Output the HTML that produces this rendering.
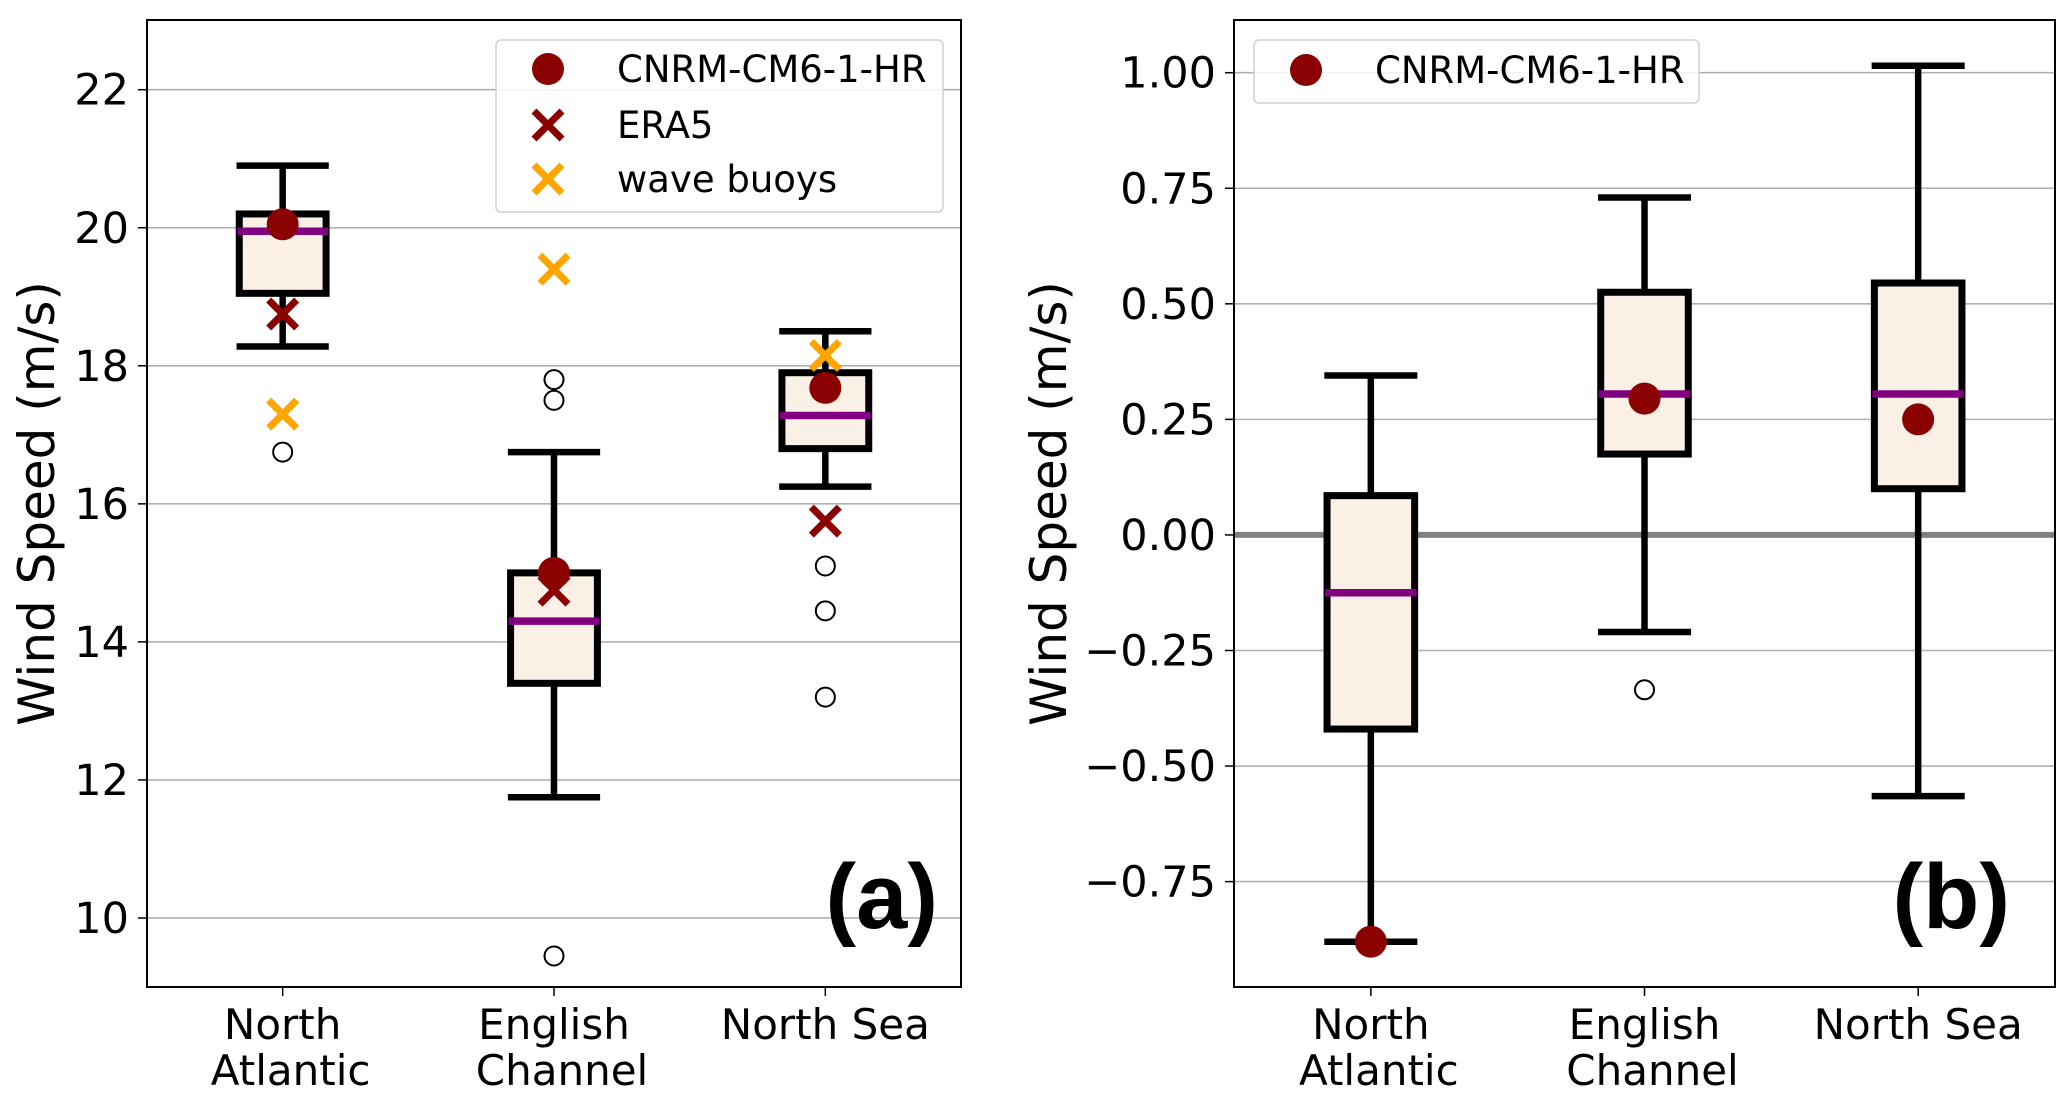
<!DOCTYPE html>
<html><head><meta charset="utf-8"><style>
html,body{margin:0;padding:0;background:#fff;}
svg{display:block;font-family:"DejaVu Sans","Liberation Sans",sans-serif;}
</style></head><body>
<svg id="chart" width="2067" height="1107" viewBox="0 0 2067 1107" xmlns="http://www.w3.org/2000/svg"></svg>
<script>
const categories = ["North Atlantic","English Channel","North Sea"];
const catLines = [["North","Atlantic"],["English","Channel"],["North Sea"]];
// Panel a
const aTicks = [10,12,14,16,18,20,22];
const aWhiskLo = [18.28,11.75,16.25];
const aQ1 = [19.05,13.4,16.8];
const aMed = [19.95,14.3,17.28];
const aQ3 = [20.2,15.0,17.9];
const aWhiskHi = [20.9,16.75,18.5];
const aCNRM = [20.05,15.0,17.68];
const aERA5 = [18.75,14.75,15.75];
const aBuoys = [17.3,19.4,18.15];
const aOutliers = [[16.75],[17.8,17.5,9.45],[15.1,14.45,13.2]];
// Panel b
const bTicks = [-0.75,-0.5,-0.25,0,0.25,0.5,0.75,1.0];
const bTickLabels = ["\u22120.75","\u22120.50","\u22120.25","0.00","0.25","0.50","0.75","1.00"];
const bWhiskLo = [-0.88,-0.21,-0.565];
const bQ1 = [-0.42,0.175,0.1];
const bMed = [-0.125,0.305,0.305];
const bQ3 = [0.085,0.525,0.545];
const bWhiskHi = [0.345,0.73,1.015];
const bCNRM = [-0.88,0.295,0.25];
const bOutliers = [[],[-0.335],[]];

const NS="http://www.w3.org/2000/svg";
const svg=document.getElementById('chart');
function el(tag,attrs,parent,text){const e=document.createElementNS(NS,tag);for(const k in attrs)e.setAttribute(k,attrs[k]);if(text!==undefined)e.textContent=text;(parent||svg).appendChild(e);return e;}

function panel(o){
  const {L,R,T,B,ymin,ymax}=o;
  const g=el('g',{});
  
  
  const y=v=>B-(v-ymin)/(ymax-ymin)*(B-T);
  const x=i=>L+(i+1-0.5)/3*(R-L);
  const unit=(R-L)/3;
  o.ticks.forEach((t,k)=>{
    const gl=el('line',{x1:L,x2:R,y1:y(t),y2:y(t),stroke:'#b0b0b0','stroke-width':1.6},g);
    
    
    el('line',{x1:L-9,x2:L,y1:y(t),y2:y(t),stroke:'#000','stroke-width':1.5},g);
    const tx=el('text',{x:L-18,y:y(t)+15,'text-anchor':'end','font-size':43,fill:'#000'},g,o.tickLabels?o.tickLabels[k]:String(t));
    
    
  });
  if(o.zero){const z=el('line',{x1:L,x2:R,y1:y(0),y2:y(0),stroke:'#808080','stroke-width':6},g);
    }
  const bw=unit*0.32, cw=unit*0.17;
  for(let i=0;i<3;i++){
    const cx=x(i);
    const bg=el('g',{},g);
    
    
    el('line',{x1:cx,x2:cx,y1:y(o.wlo[i]),y2:y(o.q1[i]),stroke:'#000','stroke-width':6.5},bg);
    el('line',{x1:cx,x2:cx,y1:y(o.q3[i]),y2:y(o.whi[i]),stroke:'#000','stroke-width':6.5},bg);
    el('line',{x1:cx-cw,x2:cx+cw,y1:y(o.wlo[i]),y2:y(o.wlo[i]),stroke:'#000','stroke-width':6.5},bg);
    el('line',{x1:cx-cw,x2:cx+cw,y1:y(o.whi[i]),y2:y(o.whi[i]),stroke:'#000','stroke-width':6.5},bg);
    el('rect',{x:cx-bw/2,y:y(o.q3[i]),width:bw,height:y(o.q1[i])-y(o.q3[i]),fill:'#faf0e6',stroke:'#000','stroke-width':7},bg);
    el('line',{x1:cx-bw/2-2,x2:cx+bw/2+2,y1:y(o.med[i]),y2:y(o.med[i]),stroke:'#800080','stroke-width':7.5},bg);
    o.out[i].forEach(v=>{const c=el('circle',{cx:cx,cy:y(v),r:9.5,fill:'none',stroke:'#000','stroke-width':2},bg);
      });
    if(o.buoy){cross(cx,y(o.buoy[i]),'#ffa500',bg);}
    if(o.era){cross(cx,y(o.era[i]),'#8b0000',bg);}
    const d=el('circle',{cx:cx,cy:y(o.cnrm[i]),r:16,fill:'#8b0000'},bg);
    
    el('line',{x1:cx,x2:cx,y1:B,y2:B+9,stroke:'#000','stroke-width':1.5},g);
    catLines[i].forEach((s,j)=>{const t=el('text',{x:cx+(j==1?8:0),y:1039+j*46,'text-anchor':'middle','font-size':42},g,s);
      });
  }
  const fr=el('rect',{x:L,y:T,width:R-L,height:B-T,fill:'none',stroke:'#000','stroke-width':2},g);
  
  const yl=el('text',{x:0,y:0,transform:`translate(${o.ylx},${(T+B)/2}) rotate(-90)`,'text-anchor':'middle','font-size':50},g,'Wind Speed (m/s)');
  
  const pl=el('text',{x:o.labX,y:928,'text-anchor':'end','font-size':92,'font-weight':'bold','font-family':'Liberation Sans, sans-serif'},g,o.label);
  
  return g;
}
function cross(cx,cy,col,p){
  const g=el('g',{},p);
  
  
  const s=14;
  el('line',{x1:cx-s,y1:cy-s,x2:cx+s,y2:cy+s,stroke:col,'stroke-width':7},g);
  el('line',{x1:cx-s,y1:cy+s,x2:cx+s,y2:cy-s,stroke:col,'stroke-width':7},g);
  return g;
}
panel({name:'panel-a',L:147,R:961,T:20,B:987,ymin:9,ymax:23.01,ticks:aTicks,wlo:aWhiskLo,q1:aQ1,med:aMed,q3:aQ3,whi:aWhiskHi,cnrm:aCNRM,era:aERA5,buoy:aBuoys,out:aOutliers,ylx:54,label:'(a)',labX:938});
panel({name:'panel-b',L:1234,R:2055,T:20,B:987,ymin:-0.978,ymax:1.114,ticks:bTicks,tickLabels:bTickLabels,wlo:bWhiskLo,q1:bQ1,med:bMed,q3:bQ3,whi:bWhiskHi,cnrm:bCNRM,out:bOutliers,zero:true,ylx:1066,label:'(b)',labX:2010});

function legend(x,y,w,h,items,name){
  const g=el('g',{});
  
  
  el('rect',{x:x,y:y,width:w,height:h,rx:5,fill:'#fff','fill-opacity':0.85,stroke:'#d0d0d0','stroke-width':1.5},g);
  items.forEach(it=>{
    if(it.type==='dot')el('circle',{cx:it.mx,cy:it.y,r:16,fill:'#8b0000'},g);
    else cross(it.mx,it.y,it.col,g);
    const t=el('text',{x:it.tx,y:it.y+13,'font-size':37},g,it.label);
    
  });
}
legend(496,40,447,172,[
  {type:'dot',mx:548,tx:617,y:69,label:'CNRM-CM6-1-HR'},
  {type:'x',col:'#8b0000',mx:548,tx:617,y:125,label:'ERA5'},
  {type:'x',col:'#ffa500',mx:548,tx:617,y:179,label:'wave buoys'}],'legend-a');
legend(1254,40,445,63,[{type:'dot',mx:1306,tx:1375,y:70,label:'CNRM-CM6-1-HR'}],'legend-b');
</script>
</body></html>
